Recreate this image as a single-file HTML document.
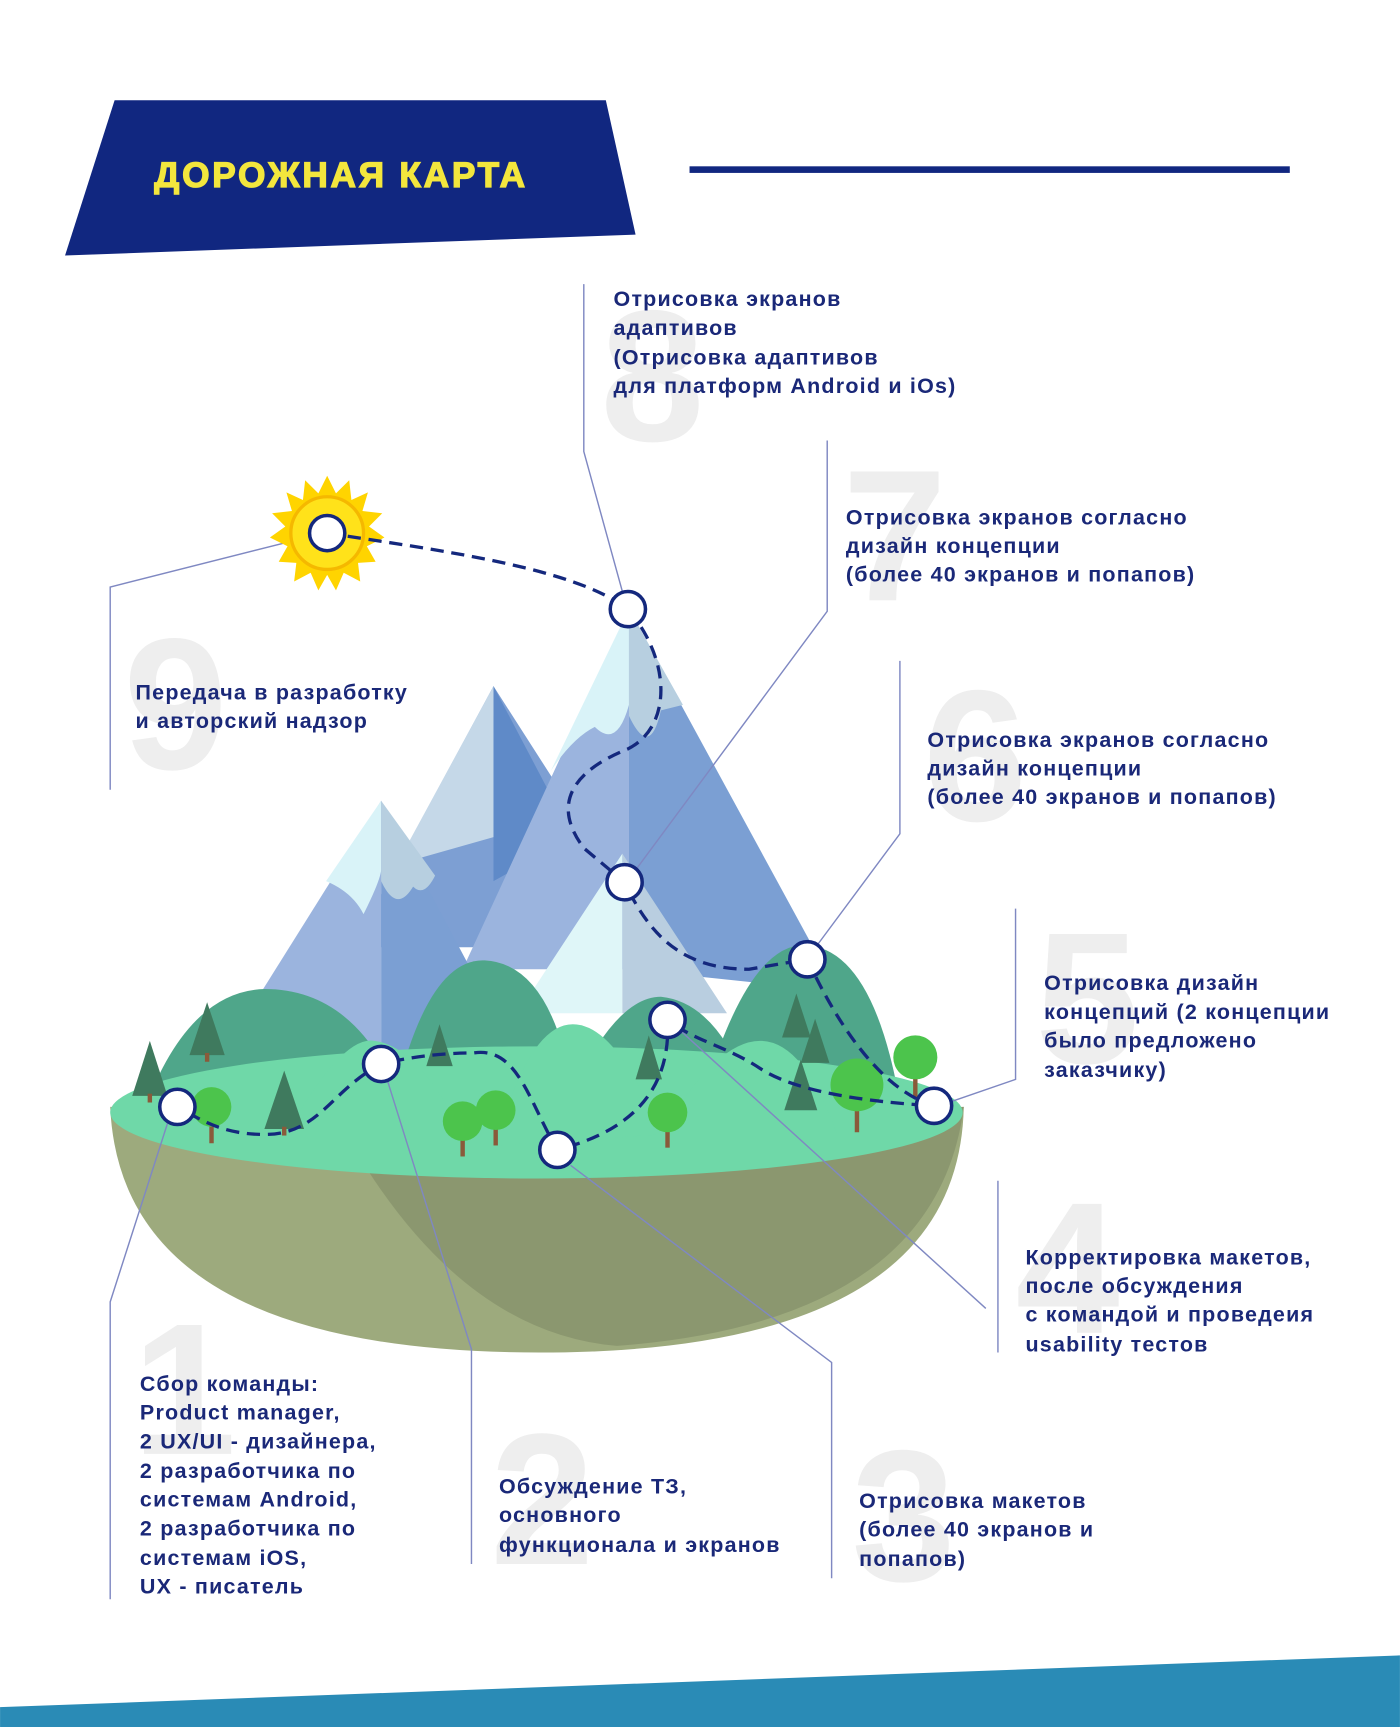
<!DOCTYPE html>
<html><head><meta charset="utf-8">
<style>
html,body{margin:0;padding:0;background:#fff;}
svg{display:block;}
text{font-family:"Liberation Sans",sans-serif;}
.t{font-size:19.5px;fill:#1a2878;font-weight:bold;letter-spacing:1.1px;}
.n{font-size:170px;font-weight:bold;fill:#eeeeee;}
.l{stroke:#7f88c2;stroke-width:1.3;fill:none;}
.c{fill:#fff;stroke:#14287d;stroke-width:3.2;}
</style></head><body>
<svg width="1400" height="1727" viewBox="0 0 1271 1568" xmlns="http://www.w3.org/2000/svg">
<rect width="1271" height="1568" fill="#fff"/>
<!-- header -->
<polygon points="104,91 550,91 577,213 59,232" fill="#112780"/>
<text x="140" y="170" style="font-size:32px;font-weight:900;fill:#f3e63d;letter-spacing:2.5px;stroke:#f3e63d;stroke-width:1.2px;">ДОРОЖНАЯ КАРТА</text>
<rect x="626" y="151" width="545" height="6" fill="#112780"/>
<!-- bottom band -->
<polygon points="0,1550 1271,1503 1271,1568 0,1568" fill="#2a8bb6"/>

<!-- big numbers -->
<text class="n" x="545" y="400">8</text>
<text class="n" x="765" y="545">7</text>
<text class="n" x="838" y="745">6</text>
<text class="n" x="940" y="965">5</text>
<text class="n" x="922" y="1210">4</text>
<text class="n" x="773" y="1435">3</text>
<text class="n" x="445" y="1420">2</text>
<text class="n" x="120" y="1320">1</text>
<text class="n" x="112" y="698">9</text>

<!-- island bowl -->
<path d="M100,1005 Q110,1228 490,1228 Q870,1228 875,1005 Z" fill="#9daa7d"/>
<path d="M320,1040 Q420,1210 560,1222 Q850,1200 875,1005 L600,1040 Z" fill="#8b976f"/>

<!-- mountains -->
<polygon points="448,623 320,860 600,860" fill="#7d9fd3"/>
<polygon points="448,623 360,785 448,760" fill="#c5d8e8"/>
<polygon points="448,623 448,800 520,760" fill="#5f8ac8"/>
<polygon points="571,553 420,880 571,880" fill="#9bb4de"/>
<polygon points="571,553 571,880 760,900" fill="#7b9fd3"/>
<path d="M571,553 L500,700 Q520,670 540,660 Q560,680 571,640 Z" fill="#d9f3f8"/>
<path d="M571,553 L571,650 Q590,690 600,645 L620,640 Z" fill="#b7cfe0"/>
<polygon points="346,727 200,960 346,960" fill="#9bb4de"/>
<polygon points="346,727 346,960 470,960" fill="#7b9fd3"/>
<path d="M346,727 L296,800 Q320,810 330,830 Q345,800 346,790 Z" fill="#d9f3f8"/>
<path d="M346,727 L346,800 Q360,830 375,805 Q385,815 395,795 Z" fill="#b7cfe0"/>
<polygon points="565,775 470,920 565,920" fill="#dff6f8"/>
<polygon points="565,775 565,920 660,920" fill="#b9cee0"/>

<!-- hills -->
<path d="M130,1010 Q170,900 240,898 Q320,898 360,990 Z" fill="#4fa68a"/>
<path d="M360,990 Q390,870 440,872 Q500,875 520,990 Z" fill="#4fa68a"/>
<path d="M520,990 Q560,905 600,905 Q650,910 680,990 Z" fill="#4fa68a"/>
<path d="M640,990 Q680,858 730,858 Q790,860 815,990 Z" fill="#4fa68a"/>
<ellipse cx="487" cy="1010" rx="387" ry="60" fill="#6fd8a8"/>
<path d="M260,1030 Q310,940 340,945 Q380,950 420,1030 Z" fill="#6fd8a8"/>
<path d="M450,1040 Q480,930 520,930 Q560,930 600,1030 Z" fill="#6fd8a8"/>
<path d="M600,1030 Q650,945 690,945 Q730,945 760,1030 Z" fill="#6fd8a8"/>

<!-- trees -->
<g fill="#3f7a5e">
<polygon points="136,945 120,995 152,995"/><polygon points="188,910 172,958 204,958"/>
<polygon points="258,972 240,1025 276,1025"/><polygon points="399,930 387,968 411,968"/>
<polygon points="589,940 577,980 601,980"/><polygon points="723,902 710,942 736,942"/>
<polygon points="740,925 727,965 753,965"/><polygon points="727,962 712,1008 742,1008"/>
</g>
<g fill="#8a5a3a">
<rect x="134" y="993" width="4" height="8"/><rect x="186" y="956" width="4" height="8"/>
<rect x="256" y="1023" width="4" height="8"/><rect x="418" y="1030" width="4" height="20"/>
<rect x="448" y="1020" width="4" height="20"/><rect x="604" y="1020" width="4" height="22"/>
<rect x="776" y="1000" width="4" height="28"/><rect x="829" y="975" width="4" height="22"/>
<rect x="190" y="1020" width="4" height="18"/>
</g>
<g fill="#4cc44c">
<circle cx="192" cy="1005" r="18"/><circle cx="420" cy="1018" r="18"/><circle cx="450" cy="1008" r="18"/>
<circle cx="606" cy="1010" r="18"/><circle cx="778" cy="985" r="24"/><circle cx="831" cy="960" r="20"/>
</g>

<!-- leader lines -->
<polyline class="l" points="530,258 530,410 565,537"/>
<polyline class="l" points="751,400 751,555 577,790"/>
<polyline class="l" points="817,600 817,757 742,858"/>
<polyline class="l" points="922,825 922,980 864,1000"/>
<polyline class="l" points="618,936 895,1188"/>
<line class="l" x1="906" y1="1072" x2="906" y2="1228"/>
<polyline class="l" points="518,1058 755,1237 755,1433"/>
<polyline class="l" points="352,982 428,1225 428,1420"/>
<polyline class="l" points="152,1020 100,1182 100,1452"/>
<polyline class="l" points="262,492 100,533 100,717"/>

<!-- sun -->
<g transform="translate(297,484)">
<polygon fill="#ffd400" points="0,-52 8,-36 20,-48 22,-30 37,-37 32,-20 50,-18 38,-6 52,4 36,12 44,26 28,27 30,44 15,36 8,52 0,38 -8,52 -15,36 -30,44 -28,27 -44,26 -36,12 -52,4 -38,-6 -50,-18 -32,-20 -37,-37 -22,-30 -20,-48 -8,-36"/>
<circle r="33" fill="#ffe21a"/>
<circle r="33" fill="none" stroke="#f5b800" stroke-width="3"/>
</g>

<!-- dashed path -->
<path fill="none" stroke="#14287d" stroke-width="3" stroke-dasharray="12 7"
d="M297,484 C400,500 520,515 570,553 C610,600 610,660 570,680 C520,700 500,730 530,770 L567,801 C590,850 620,880 680,880 L733,871 C760,930 800,990 848,1004 C780,1000 720,990 690,970 C660,950 630,945 606,926 C610,1000 560,1030 506,1044 C480,1000 470,950 430,956 C400,956 370,960 346,966 C300,990 290,1030 240,1030 C200,1030 180,1015 161,1005"/>

<circle class="c" cx="297" cy="484" r="16"/>
<circle class="c" cx="570" cy="553" r="16"/>
<circle class="c" cx="567" cy="801" r="16"/>
<circle class="c" cx="733" cy="871" r="16"/>
<circle class="c" cx="848" cy="1004" r="16"/>
<circle class="c" cx="606" cy="926" r="16"/>
<circle class="c" cx="506" cy="1044" r="16"/>
<circle class="c" cx="346" cy="966" r="16"/>
<circle class="c" cx="161" cy="1005" r="16"/>

<!-- labels -->
<text class="t"><tspan x="557" y="278">Отрисовка экранов</tspan><tspan x="557" y="304">адаптивов</tspan><tspan x="557" y="331">(Отрисовка адаптивов</tspan><tspan x="557" y="357">для платформ Android и iOs)</tspan></text>
<text class="t"><tspan x="768" y="476">Отрисовка экранов согласно</tspan><tspan x="768" y="502">дизайн концепции</tspan><tspan x="768" y="528">(более 40 экранов и попапов)</tspan></text>
<text class="t"><tspan x="842" y="678">Отрисовка экранов согласно</tspan><tspan x="842" y="704">дизайн концепции</tspan><tspan x="842" y="730">(более 40 экранов и попапов)</tspan></text>
<text class="t"><tspan x="948" y="899">Отрисовка дизайн</tspan><tspan x="948" y="925">концепций (2 концепции</tspan><tspan x="948" y="951">было предложено</tspan><tspan x="948" y="978">заказчику)</tspan></text>
<text class="t"><tspan x="931" y="1148">Корректировка макетов,</tspan><tspan x="931" y="1174">после обсуждения</tspan><tspan x="931" y="1200">с командой и проведеия</tspan><tspan x="931" y="1227">usability тестов</tspan></text>
<text class="t"><tspan x="780" y="1369">Отрисовка макетов</tspan><tspan x="780" y="1395">(более 40 экранов и</tspan><tspan x="780" y="1422">попапов)</tspan></text>
<text class="t"><tspan x="453" y="1356">Обсуждение ТЗ,</tspan><tspan x="453" y="1382">основного</tspan><tspan x="453" y="1409">функционала и экранов</tspan></text>
<text class="t"><tspan x="127" y="1263">Сбор команды:</tspan><tspan x="127" y="1289">Product manager,</tspan><tspan x="127" y="1315">2 UX/UI - дизайнера,</tspan><tspan x="127" y="1342">2 разработчика по</tspan><tspan x="127" y="1368">системам Android,</tspan><tspan x="127" y="1394">2 разработчика по</tspan><tspan x="127" y="1421">системам iOS,</tspan><tspan x="127" y="1447">UX - писатель</tspan></text>
<text class="t"><tspan x="123" y="635">Передача в разработку</tspan><tspan x="123" y="661">и авторский надзор</tspan></text>
</svg>
</body></html>
